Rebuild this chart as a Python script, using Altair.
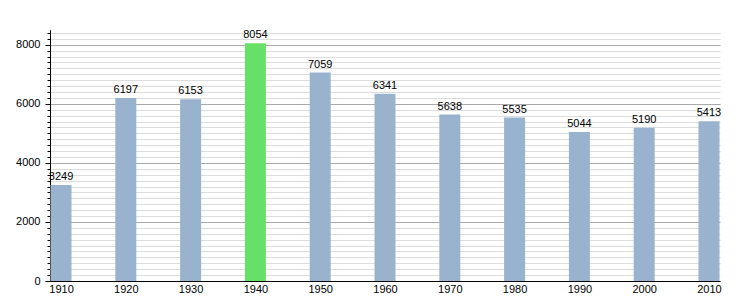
import altair as alt
import pandas as pd

years = [1910, 1920, 1930, 1940, 1950, 1960, 1970, 1980, 1990, 2000, 2010]
population = [3249, 6197, 6153, 8054, 7059, 6341, 5638, 5535, 5044, 5190, 5413]
highlight = [False, False, False, True, False, False, False, False, False, False, False]
major_ticks = [0, 2000, 4000, 6000, 8000]
minor_ticks = list(range(0, 8600, 200))

df = pd.DataFrame({"year": years, "pop": population, "hl": highlight})

xscale = alt.Scale(domain=[1908.3, 2011.7], nice=False, zero=False, padding=0)
yscale = alt.Scale(domain=[0, 8500], nice=False, padding=0)

x_enc = alt.X("year:Q", scale=xscale,
              axis=alt.Axis(values=years, format="d", title=None, grid=False,
                            domainColor="black", ticks=False, labelPadding=2,
                            labelFont="Liberation Sans", labelFontSize=11,
                            labelColor="black"))

minor = alt.Chart(df).mark_bar(opacity=0).encode(
    x=x_enc,
    y=alt.Y("pop:Q", scale=yscale,
            axis=alt.Axis(values=minor_ticks, labels=False, title=None, grid=True,
                          gridColor="#dddddd", gridWidth=1, tickSize=3,
                          tickColor="black", domainColor="black", orient="left")),
)

major = alt.Chart(df).mark_bar(size=21).encode(
    x=x_enc,
    y=alt.Y("pop:Q", scale=yscale,
            axis=alt.Axis(values=major_ticks, format="d", title=None, grid=True,
                          gridColor="#aaaaaa", gridWidth=1, tickSize=5,
                          tickColor="black", domainColor="black", orient="left",
                          labelFont="Liberation Sans", labelFontSize=11,
                          labelColor="black", labelPadding=5)),
    color=alt.Color("hl:N", scale=alt.Scale(domain=[False, True],
                                             range=["#99b3cf", "#66e066"]),
                    legend=None),
)

labels = alt.Chart(df).mark_text(dy=-8, font="Liberation Sans", fontSize=11,
                                 color="black").encode(
    x=x_enc,
    y=alt.Y("pop:Q", scale=yscale, axis=None),
    text=alt.Text("pop:Q", format="d"),
)

chart = alt.layer(minor, major, labels).resolve_axis(y="independent").properties(
    width=670, height=251,
    padding={"left": 50, "top": 30, "right": 30, "bottom": 19},
    autosize=alt.AutoSizeParams(type="none"),
).configure_view(stroke=None)

chart.save("out.html", embed_options={"renderer": "svg", "actions": False})
